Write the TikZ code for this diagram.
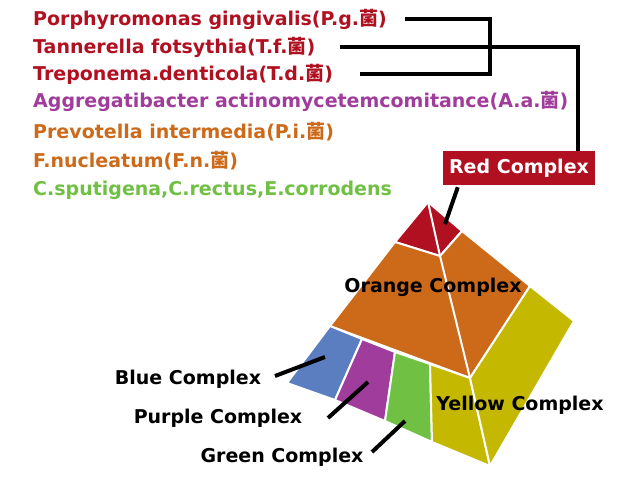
\documentclass[tikz,border=0pt]{standalone}
\usepackage{fontspec}
\setmainfont{DejaVu Sans}
\newfontfamily\cjk{Noto Sans CJK JP}
\definecolor{cred}{HTML}{B01020}
\definecolor{cpur}{HTML}{A03C9C}
\definecolor{cora}{HTML}{CC6A1A}
\definecolor{cgrn}{HTML}{70C044}
\definecolor{cblu}{HTML}{5A7EC0}
\definecolor{cyel}{HTML}{C4B800}
\begin{document}
\begin{tikzpicture}[x=1pt,y=-1pt,
  lbl/.style={anchor=west,inner sep=0pt,font=\fontsize{19}{21}\selectfont\bfseries},
  tag/.style={inner sep=0pt,font=\fontsize{19}{21}\selectfont\bfseries},
  face/.style={draw=white,line width=2pt,line join=round},
  bar/.style={line width=4pt}]
\useasboundingbox (0,0) rectangle (640,480);
% pyramid
\path[face,fill=cred] (428,202)--(462,231)--(440,256)--(395,242)--cycle;
\path[face,fill=cora] (395,242)--(440,256)--(462,231)--(530,286)--(470,378)--(330,326)--cycle;
\draw[white,line width=2pt] (428,202)--(440,256)--(470,378);
\path[face,fill=cblu] (330,326)--(362,339)--(335,400)--(287,383)--cycle;
\path[face,fill=cpur] (362,339)--(395,352)--(385,421)--(335,400)--cycle;
\path[face,fill=cgrn] (395,352)--(430,364)--(432,442)--(385,421)--cycle;
\path[face,fill=cyel] (430,364)--(470,378)--(490,466)--(432,442)--cycle;
\path[face,fill=cyel] (470,378)--(530,286)--(574,321)--(490,466)--cycle;
% texts
\node[lbl,text=cred] (pg) at (33,19) {Porphyromonas gingivalis(P.g.{\cjk 菌})};
\node[lbl,text=cred] (tf) at (33,47) {Tannerella fotsythia(T.f.{\cjk 菌})};
\node[lbl,text=cred] (td) at (33,74) {Treponema.denticola(T.d.{\cjk 菌})};
\node[lbl,text=cpur] (aa) at (33,101) {Aggregatibacter actinomycetemcomitance(A.a.{\cjk 菌})};
\node[lbl,text=cora] (pi) at (33,132) {Prevotella intermedia(P.i.{\cjk 菌})};
\node[lbl,text=cora] (fn) at (33,161) {F.nucleatum(F.n.{\cjk 菌})};
\node[lbl,text=cgrn] (cs) at (33,190) {C.sputigena,C.rectus,E.corrodens};
\node[tag,fill=cred,text=white,minimum width=152pt,minimum height=34pt] (rc) at (519,168) {Red Complex};
\node[tag] (oc) at (433,287) {Orange Complex};
\node[tag] (yc) at (520,405) {Yellow Complex};
\node[tag] (bc) at (188,379) {Blue Complex};
\node[tag] (pc) at (218,418) {Purple Complex};
\node[tag] (gc) at (282,457) {Green Complex};
% connectors
\coordinate (j1) at (490,19); \coordinate (j3) at (490,74); \coordinate (j2) at (490,47);
\draw[bar] (405,19)--(j1)--(j3)--(360,74);
\draw[bar] (340,47)--(j2)--(578,47)--(rc.north -| 578,0);
\coordinate (rp) at (445,224);
\draw[bar] (rc.south west)++(15,2)--(rp);
\coordinate (bp) at (325,357); \draw[bar] (275,376)--(bp);
\coordinate (pp) at (368,382); \draw[bar] (328,418)--(pp);
\coordinate (gp) at (405,421); \draw[bar] (372,452)--(gp);
\end{tikzpicture}
\end{document}
